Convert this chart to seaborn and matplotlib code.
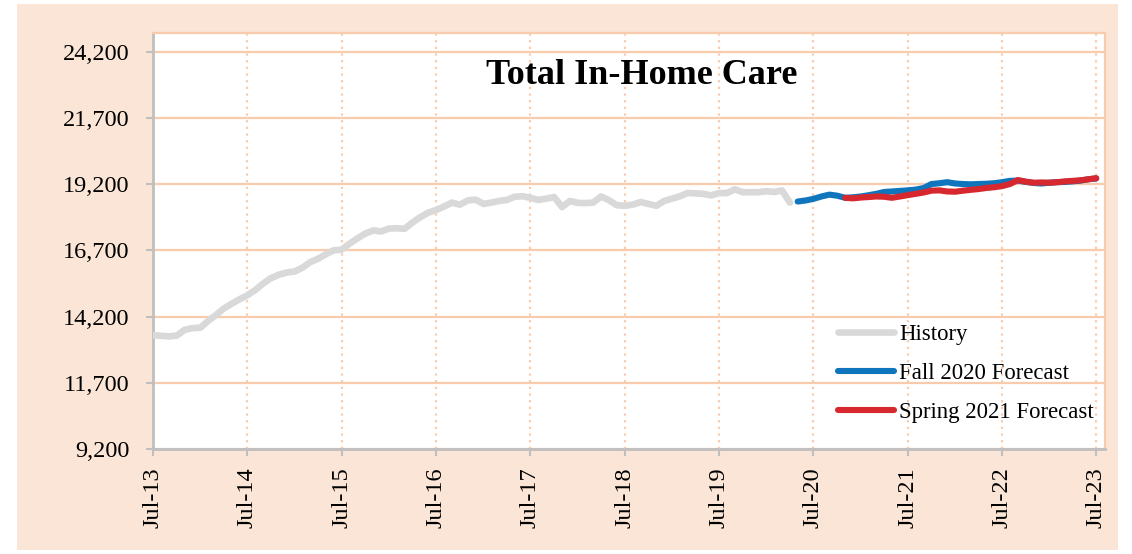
import seaborn as sns
import matplotlib.pyplot as plt
import matplotlib.dates as mdates
import matplotlib.ticker as mticker
from matplotlib.patches import Rectangle
import pandas as pd

# Monthly values
history_start = "2013-07-01"
history = [13500, 13470, 13450, 13480, 13700, 13760, 13780, 14050, 14250, 14500,
           14680, 14850, 15000, 15200, 15450, 15650, 15780, 15860, 15900, 16050,
           16250, 16380, 16550, 16700, 16720, 16950, 17150, 17330, 17450, 17410,
           17520, 17530, 17510, 17750, 17950, 18120, 18220, 18350, 18500, 18420,
           18580, 18610, 18450, 18500, 18560, 18600, 18720, 18740, 18680, 18600,
           18650, 18710, 18330, 18560, 18490, 18480, 18500, 18730, 18590, 18400,
           18380, 18420, 18520, 18450, 18380, 18560, 18650, 18740, 18860, 18850,
           18830, 18770, 18860, 18860, 19000, 18890, 18890, 18890, 18930, 18900,
           18960, 18500]

fall_start = "2020-05-01"
fall_2020 = [18540, 18580, 18640, 18730, 18800, 18760, 18680, 18700, 18730, 18780,
             18830, 18900, 18920, 18940, 18960, 18990, 19050, 19200, 19230, 19270,
             19220, 19200, 19190, 19200, 19210, 19230, 19270, 19320, 19330, 19280,
             19240, 19220, 19250, 19270, 19280, 19300, 19330, 19380, 19410]

spring_start = "2020-11-01"
spring_2021 = [18680, 18660, 18690, 18710, 18730, 18720, 18680, 18730, 18780, 18830,
               18880, 18950, 18960, 18920, 18910, 18950, 18980, 19010, 19050, 19080,
               19120, 19200, 19350, 19290, 19250, 19260, 19250, 19270, 19300, 19320,
               19340, 19380, 19420]

y_ticks = [9200, 11700, 14200, 16700, 19200, 21700, 24200]
x_tick_years = list(range(2013, 2024))

hist_df = pd.DataFrame({"date": pd.date_range(history_start, periods=len(history), freq="MS"),
                        "value": history})
fall_df = pd.DataFrame({"date": pd.date_range(fall_start, periods=len(fall_2020), freq="MS"),
                        "value": fall_2020})
spring_df = pd.DataFrame({"date": pd.date_range(spring_start, periods=len(spring_2021), freq="MS"),
                          "value": spring_2021})

sns.set_style("white")
plt.rcParams['font.family'] = ['Liberation Serif', 'DejaVu Serif']
plt.rcParams['text.color'] = 'black'
plt.rcParams['xtick.labelcolor'] = 'black'
plt.rcParams['ytick.labelcolor'] = 'black'

peach = "#FBE5D6"
grid_peach = "#F8CBAD"
spine_gray = "#BFBFBF"

fig = plt.figure(figsize=(11.32, 5.54), dpi=100)
fig.patch.set_facecolor("white")
fig.patches.append(Rectangle((17 / 1132, 4 / 554), 1101 / 1132, 546 / 554,
                             transform=fig.transFigure, facecolor=peach,
                             edgecolor="none", zorder=-5))

ax = fig.add_axes([153 / 1132, 105 / 554, 952 / 1132, 416 / 554])
ax.set_facecolor("white")

sns.lineplot(data=hist_df, x="date", y="value", ax=ax, color="#D9D9D9",
             linewidth=4.8, label="History", solid_capstyle="round", zorder=3)
sns.lineplot(data=fall_df, x="date", y="value", ax=ax, color="#0F75BC",
             linewidth=4.4, label="Fall 2020 Forecast", solid_capstyle="round", zorder=4)
sns.lineplot(data=spring_df, x="date", y="value", ax=ax, color="#D7282F",
             linewidth=4.4, label="Spring 2021 Forecast", solid_capstyle="round", zorder=5)

ax.set_ylim(9200, 24900)
ax.set_xlim(pd.Timestamp("2013-07-01"), pd.Timestamp("2023-08-04"))
ax.set_yticks(y_ticks)
ax.yaxis.set_major_formatter(mticker.FuncFormatter(lambda v, p: f"{int(v):,}"))
ax.set_xticks([pd.Timestamp(f"{y}-07-01") for y in x_tick_years])
ax.xaxis.set_major_formatter(mdates.DateFormatter("Jul-%y"))
plt.setp(ax.get_xticklabels(), rotation=90)

ax.tick_params(axis="y", labelsize=17.5, length=5, width=1.5, color=spine_gray, pad=12)
ax.tick_params(axis="x", labelsize=17.5, length=5, width=1.5, color=spine_gray, pad=8)
ax.tick_params(left=True, bottom=True)

ax.set_xlabel("")
ax.set_ylabel("")

# grid: solid horizontal, dotted vertical
ax.yaxis.grid(True, color=grid_peach, linewidth=1.6, linestyle="-", zorder=1)
ax.xaxis.grid(True, color=grid_peach, linewidth=1.6, linestyle=(0, (1, 2)), zorder=1)
ax.set_axisbelow(True)

ax.spines["left"].set_color(spine_gray)
ax.spines["bottom"].set_color(spine_gray)
ax.spines["left"].set_linewidth(2)
ax.spines["bottom"].set_linewidth(2)
ax.spines["top"].set_color(grid_peach)
ax.spines["right"].set_color(grid_peach)
ax.spines["top"].set_linewidth(1.6)
ax.spines["right"].set_linewidth(1.6)

ax.text(0.513, 0.898, "Total In-Home Care", transform=ax.transAxes,
        ha="center", va="center", fontsize=26, fontweight="bold")

ax.legend(loc="upper left", bbox_to_anchor=(0.72, 0.30), frameon=False,
          fontsize=16.4, handlelength=2.45, handletextpad=0.2,
          labelspacing=0.78, borderpad=0, borderaxespad=0)

plt.savefig("out.png", dpi=100, facecolor=fig.get_facecolor())
